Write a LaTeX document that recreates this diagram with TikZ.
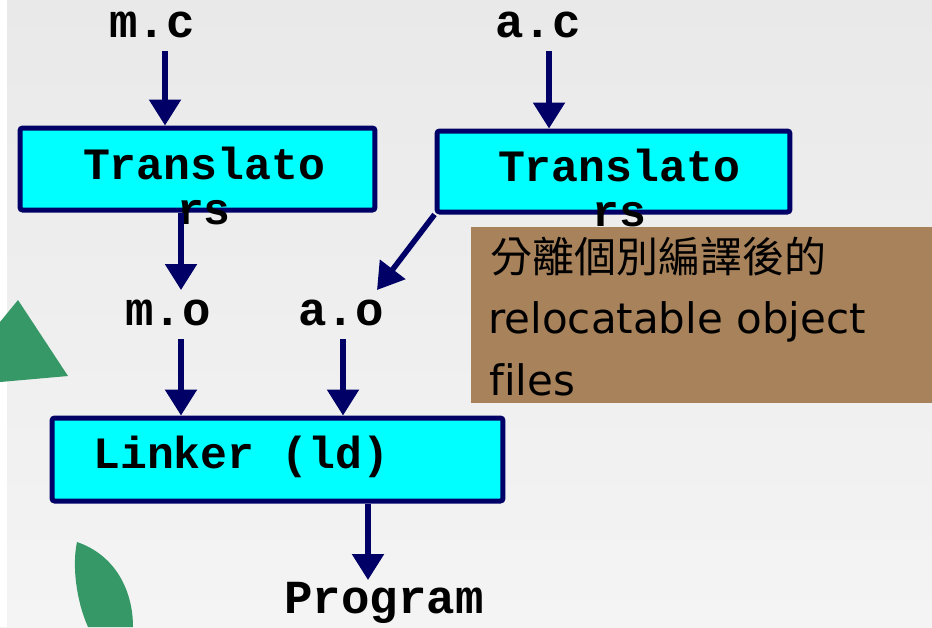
\documentclass[tikz,border=0pt]{standalone}
\usepackage{fontspec}
\setmonofont{Liberation Mono}
\newfontfamily\cjkfont{Noto Sans CJK TC}
\newfontfamily\notefont{DejaVu Sans}[Ligatures=NoCommon]
\usetikzlibrary{arrows.meta, positioning}
\definecolor{navyline}{RGB}{0,0,102}
\definecolor{boxcyan}{RGB}{0,255,255}
\definecolor{notebrown}{RGB}{168,130,90}
\definecolor{leafgreen}{RGB}{54,152,102}
\definecolor{bgtop}{RGB}{233,233,233}
\definecolor{bgbottom}{RGB}{244,244,244}

\begin{document}
\begin{tikzpicture}[
    x=0.02cm, y=-0.02cm,
    box/.style={draw=navyline, fill=boxcyan, line width=0.1cm, rounded corners=1.5pt, inner sep=0pt},
    file/.style={font=\ttfamily\bfseries\fontsize{27}{27}\selectfont, inner sep=0pt, anchor=base},
    boxtext/.style={font=\ttfamily\bfseries\fontsize{25.5}{25.5}\selectfont, inner sep=0pt, align=center},
    arr/.style={-{Triangle[width=0.62cm, length=0.52cm]}, line width=0.11cm, navyline},
    note/.style={font=\notefont\fontsize{23.9}{23.9}\selectfont, inner sep=0pt, anchor=base west}
]
    \useasboundingbox (0,0) rectangle (932,627);

    % Background and decorations
    \shade[top color=bgtop, bottom color=bgbottom] (0,0) rectangle (932,627);
    \fill[white] (0,0) rectangle (7,627);
    \fill[leafgreen] (0,322) -- (18,300) -- (68,376) -- (0,382) -- cycle;
    \fill[leafgreen] (77,542) .. controls (115,555) and (133,590) .. (133,627)
        -- (88,627) .. controls (76,600) and (72,565) .. (77,542) -- cycle;

    % Sources
    \node[file] (mc) at (152,37) {m.c};
    \node[file] (ac) at (538,37) {a.c};

    % Translators
    \node[box, minimum width=7.1cm, minimum height=1.64cm] (tr1) at (197.5,169) {};
    \node[boxtext] (tr1text) at (204,186) {Translato\\rs};
    \node[box, minimum width=7.06cm, minimum height=1.62cm] (tr2) at (613.5,171.5) {};
    \node[boxtext] (tr2text) at (619,188) {Translato\\rs};

    \coordinate (mcout) at (165,51);
    \coordinate (acout) at (549,51);
    \draw[arr] (mcout) -- (mcout |- tr1.north);
    \draw[arr] (acout) -- (acout |- tr2.north);

    % Object files
    \node[file] (mo) at (168,325) {m.o};
    \node[file] (ao) at (341,325) {a.o};
    \coordinate (moin) at (181,290);
    \coordinate (aoin) at (377,290);
    \draw[arr] (moin |- tr1.south) -- (moin);
    \draw[arr] (tr2.south west) -- (aoin);

    % Linker
    \node[box, minimum width=9.02cm, minimum height=1.66cm] (ld) at (277.5,459.5) {};
    \node[boxtext, anchor=base west] (ldtext) at (93,468) {Linker (ld)};
    \coordinate (moout) at (181,339);
    \coordinate (aoout) at (343,339);
    \draw[arr] (moout) -- (moout |- ld.north);
    \draw[arr] (aoout) -- (aoout |- ld.north);

    % Output
    \node[file] (prog) at (384,613) {Program};
    \coordinate (progin) at (368,580);
    \draw[arr] (progin |- ld.south) -- (progin);

    % Note
    \node[fill=notebrown, minimum width=9.22cm, minimum height=3.52cm, inner sep=0pt, anchor=north west] (note) at (471,227) {};
    \node[note, font=\cjkfont\fontsize{23.9}{23.9}\selectfont] (note1) at (490,272) {分離個別編譯後的};
    \node[note] (note2) at (488,333) {relocatable object};
    \node[note] (note3) at (489,395) {files};
\end{tikzpicture}
\end{document}
